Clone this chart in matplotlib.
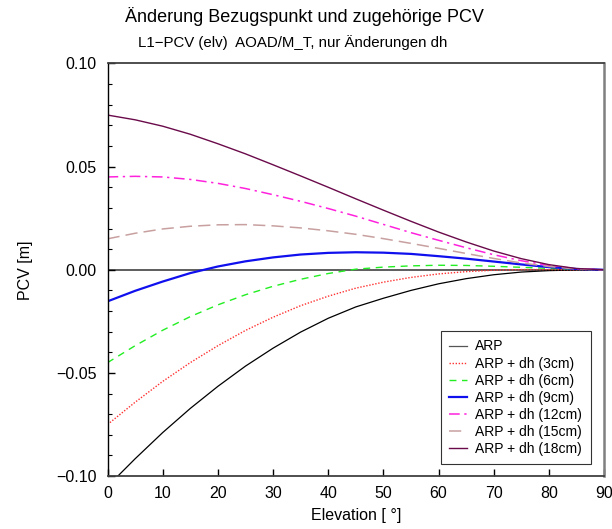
import matplotlib
matplotlib.use("Agg")
import matplotlib.pyplot as plt
from matplotlib.ticker import MultipleLocator, FuncFormatter

plt.rcParams["font.family"] = ["Liberation Sans", "DejaVu Sans"]

# Elevation grid [deg]
elevation = [0, 5, 10, 15, 20, 25, 30, 35, 40, 45, 50, 55, 60, 65, 70, 75, 80, 85, 90]

# PCV curves [m]
pcv_arp = [-0.1050, -0.0916, -0.0789, -0.0672, -0.0565, -0.0467, -0.0380, -0.0302, -0.0235,
           -0.0180, -0.0138, -0.0100, -0.0068, -0.0043, -0.0024, -0.0011, -0.0004, -0.0001, 0.0]
pcv_dh3 = [-0.0750, -0.0642, -0.0541, -0.0450, -0.0368, -0.0294, -0.0230, -0.0174, -0.0128,
           -0.0089, -0.0060, -0.0037, -0.0020, -0.0009, -0.0002, 0.0001, 0.0001, 0.0, 0.0]
pcv_dh6 = [-0.0450, -0.0368, -0.0293, -0.0227, -0.0170, -0.0121, -0.0080, -0.0046, -0.0018,
           0.0003, 0.0013, 0.0019, 0.0022, 0.0021, 0.0017, 0.0012, 0.0007, 0.0002, 0.0]
pcv_dh9 = [-0.0153, -0.0102, -0.0057, -0.0016, 0.0016, 0.0041, 0.0060, 0.0074, 0.0082,
           0.0085, 0.0083, 0.0077, 0.0066, 0.0054, 0.0040, 0.0026, 0.0013, 0.0004, 0.0]
pcv_dh12 = [0.0450, 0.0453, 0.0450, 0.0438, 0.0419, 0.0394, 0.0364, 0.0332, 0.0297,
            0.0260, 0.0220, 0.0180, 0.0143, 0.0107, 0.0073, 0.0044, 0.0021, 0.0005, 0.0]
pcv_dh15 = [0.0150, 0.0177, 0.0198, 0.0211, 0.0218, 0.0219, 0.0213, 0.0203, 0.0189,
            0.0172, 0.0151, 0.0128, 0.0104, 0.0079, 0.0055, 0.0033, 0.0016, 0.0004, 0.0]
pcv_dh18 = [0.0750, 0.0727, 0.0696, 0.0657, 0.0611, 0.0562, 0.0509, 0.0455, 0.0400,
            0.0344, 0.0289, 0.0235, 0.0183, 0.0135, 0.0091, 0.0054, 0.0025, 0.0006, 0.0]

labels = ["ARP", "ARP + dh (3cm)", "ARP + dh (6cm)", "ARP + dh (9cm)",
          "ARP + dh (12cm)", "ARP + dh (15cm)", "ARP + dh (18cm)"]

fig = plt.figure(figsize=(6.12, 5.29), dpi=100)
ax = fig.add_axes([0.1757, 0.100, 0.8113, 0.780])

ax.axhline(0.0, color="#505050", lw=1.3, zorder=1)

ax.plot(elevation, pcv_arp, color="black", lw=0.9, label=labels[0])
ax.plot(elevation, pcv_dh3, color="#ff3030", lw=1.0, ls=(0, (1, 1.2)), label=labels[1])
ax.plot(elevation, pcv_dh6, color="#22ee22", lw=1.0, ls=(0, (5, 4)), label=labels[2])
ax.plot(elevation, pcv_dh9, color="#1010ee", lw=1.6, label=labels[3])
ax.plot(elevation, pcv_dh12, color="#ff22dd", lw=1.1, ls=(0, (7, 3, 1.5, 3)), label=labels[4])
ax.plot(elevation, pcv_dh15, color="#c8a0a0", lw=1.1, ls=(0, (8, 4)), label=labels[5])
ax.plot(elevation, pcv_dh18, color="#6a0a4a", lw=1.0, label=labels[6])

ax.set_xlim(0, 90)
ax.set_ylim(-0.10, 0.10)
ax.xaxis.set_major_locator(MultipleLocator(10))
ax.yaxis.set_major_locator(MultipleLocator(0.05))
ax.yaxis.set_minor_locator(MultipleLocator(0.01))
ax.yaxis.set_major_formatter(FuncFormatter(lambda v, p: f"{v:.2f}".replace("-", "\u2212")))
ax.tick_params(axis="both", which="major", direction="in", length=5, width=1,
               labelsize=11.5)
ax.tick_params(axis="x", which="major", pad=7)
ax.tick_params(axis="y", which="major", pad=8)
ax.tick_params(axis="y", which="minor", direction="in", length=3, width=0.8)
ax.tick_params(top=False, right=False)

ax.spines["left"].set_color("black")
ax.spines["left"].set_linewidth(1.0)
for side in ("top", "bottom"):
    ax.spines[side].set_color("#404040")
    ax.spines[side].set_linewidth(1.3)
ax.spines["right"].set_color("#808080")
ax.spines["right"].set_linewidth(1.8)

ax.set_xlabel("Elevation [ °]", fontsize=11.5)
ax.xaxis.set_label_coords(0.5, -0.078)
ax.set_ylabel("PCV [m]", fontsize=11.5)
ax.yaxis.set_label_coords(-0.150, 0.5)

fig.text(0.498, 1 - 17 / 529, "Änderung Bezugspunkt und zugehörige PCV",
         ha="center", va="center", fontsize=13)
fig.text(0.479, 1 - 43 / 529, "L1\u2212PCV (elv)  AOAD/M_T, nur Änderungen dh",
         ha="center", va="center", fontsize=10.8)

leg = ax.legend(loc="lower right", fontsize=10, frameon=True, fancybox=False,
                handlelength=1.3, handletextpad=0.6, labelspacing=0.22,
                borderpad=0.6, borderaxespad=0, bbox_to_anchor=(0.973, 0.029))
leg.get_frame().set_edgecolor("black")
leg.get_frame().set_linewidth(0.8)
leg.get_lines()[0].set_color("#555555")

fig.savefig("out.png", dpi=100)
